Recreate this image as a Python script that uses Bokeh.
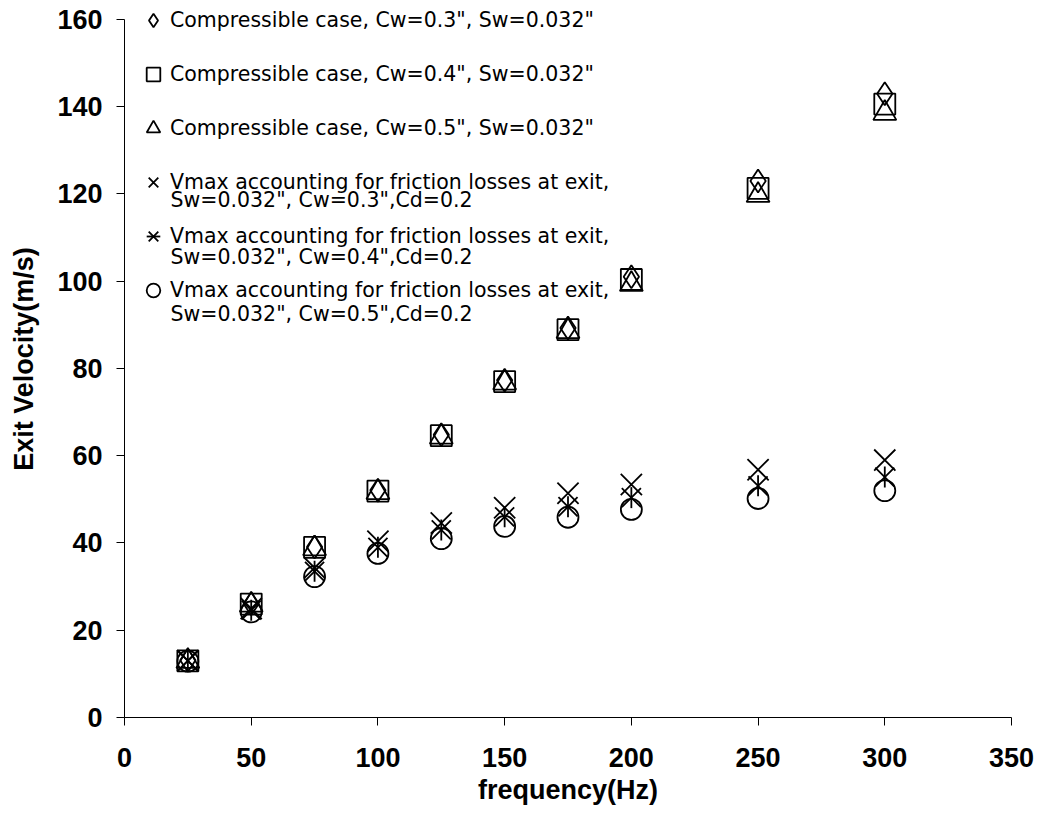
import numpy as np
from bokeh.plotting import figure
from bokeh.models import FixedTicker, Legend, LegendItem, Label
from bokeh.embed import file_html
from bokeh.resources import INLINE

freq = [25, 50, 75, 100, 125, 150, 175, 200, 250, 300]
comp_cw03 = [13.1, 26.1, 39.1, 52.1, 64.8, 77.3, 89.3, 101.0, 123.0, 143.0]
comp_cw04 = [13.0, 26.0, 39.0, 51.9, 64.6, 77.0, 88.9, 100.4, 121.3, 140.6]
comp_cw05 = [12.9, 25.8, 38.7, 51.6, 64.3, 76.7, 88.5, 99.3, 119.7, 138.5]
fric_cw03 = [13.0, 25.0, 34.3, 40.4, 44.6, 48.1, 51.4, 53.4, 56.8, 59.0]
fric_cw04 = [13.0, 24.6, 33.5, 39.0, 43.0, 46.0, 48.3, 50.4, 53.1, 55.1]
fric_cw05 = [12.9, 24.2, 32.3, 37.6, 41.0, 43.8, 45.9, 47.7, 50.2, 52.0]

legend_labels = [
    'Compressible case, Cw=0.3", Sw=0.032"',
    'Compressible case, Cw=0.4", Sw=0.032"',
    'Compressible case, Cw=0.5", Sw=0.032"',
    'Vmax accounting for friction losses at exit,',
    'Vmax accounting for friction losses at exit,',
    'Vmax accounting for friction losses at exit,',
]
legend_second_lines = [
    'Sw=0.032", Cw=0.3",Cd=0.2',
    'Sw=0.032", Cw=0.4",Cd=0.2',
    'Sw=0.032", Cw=0.5",Cd=0.2',
]
x_ticks = [0, 50, 100, 150, 200, 250, 300, 350]
y_ticks = [0, 20, 40, 60, 80, 100, 120, 140, 160]

FONT = "Liberation Sans"
LEG_FONT = "DejaVu Sans"

p = figure(width=1034, height=807, x_range=(0, 350), y_range=(0, 164.35),
           output_backend="svg", toolbar_location=None,
           min_border_left=124, min_border_right=23, min_border_top=0,
           min_border_bottom=90)
p.outline_line_color = None
p.grid.visible = False
p.background_fill_color = "white"
p.border_fill_color = "white"

for ax in (p.xaxis[0], p.yaxis[0]):
    ax.axis_line_color = "black"
    ax.axis_line_width = 1
    ax.major_tick_line_color = "black"
    ax.major_tick_in = 0
    ax.major_tick_out = 8
    ax.minor_tick_line_color = None
    ax.major_label_text_font = FONT
    ax.major_label_text_font_style = "bold"
    ax.major_label_text_font_size = "27px"
    ax.major_label_text_color = "black"
    ax.axis_label_text_font = FONT
    ax.axis_label_text_font_style = "bold"
    ax.axis_label_text_font_size = "27px"
    ax.axis_label_text_color = "black"

p.yaxis[0].bounds = (0, 160)
p.xaxis[0].major_label_standoff = 22
p.yaxis[0].major_label_standoff = 14
p.xaxis[0].ticker = FixedTicker(ticks=x_ticks)
p.yaxis[0].ticker = FixedTicker(ticks=y_ticks)
p.xaxis[0].axis_label = "frequency(Hz)"
p.yaxis[0].axis_label = "Exit Velocity(m/s)"
p.xaxis[0].axis_label_standoff = 5
p.yaxis[0].axis_label_standoff = 15

kw = dict(fill_color=None, line_color="black", line_width=1.8)
r1 = p.scatter(freq, comp_cw03, marker="diamond", size=23, **kw)
r2 = p.scatter(freq, comp_cw04, marker="square", size=21, **kw)
r3 = p.scatter(freq, comp_cw05, marker="triangle", size=23, **kw)
r4 = p.scatter(freq, fric_cw03, marker="x", size=30, **kw)
r5a = p.scatter(freq, fric_cw04, marker="x", size=27, **kw)
r5b = p.scatter(freq, fric_cw04, marker="dash", angle=np.pi / 2, size=21, **kw)
r6 = p.scatter(freq, fric_cw05, marker="circle", size=21, **kw)

legend = Legend(items=[
    LegendItem(label=legend_labels[0], renderers=[r1]),
    LegendItem(label=legend_labels[1], renderers=[r2]),
    LegendItem(label=legend_labels[2], renderers=[r3]),
    LegendItem(label=legend_labels[3], renderers=[r4]),
    LegendItem(label=legend_labels[4], renderers=[r5a, r5b]),
    LegendItem(label=legend_labels[5], renderers=[r6]),
], location=(12, 407), glyph_width=34, glyph_height=34, label_height=40,
    spacing=14, padding=0, margin=0, label_standoff=0,
    label_text_font=LEG_FONT, label_text_font_size="20.5px",
    label_text_color="black", border_line_color=None,
    background_fill_alpha=0)
p.add_layout(legend)

for i, txt in enumerate(legend_second_lines):
    p.add_layout(Label(x=46, y=518 - 57 * i, x_units="screen", y_units="screen",
                       text=txt, text_font=LEG_FONT, text_font_size="20.5px",
                       text_color="black", text_baseline="middle",
                       text_align="left"))

open("out.html", "w").write(file_html(p, INLINE))
